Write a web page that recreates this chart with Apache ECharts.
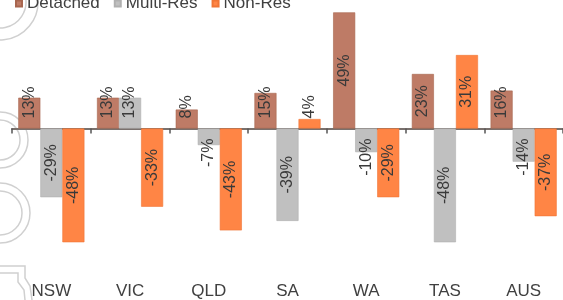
<!DOCTYPE html>
<html>
<head>
<meta charset="utf-8">
<script src="https://cdn.jsdelivr.net/npm/echarts@6/dist/echarts.min.js"></script>
<style>
html,body{margin:0;padding:0;background:#fff;}
#c{width:563px;height:300px;}
</style>
</head>
<body>
<div id="c"></div>
<script>
const categories = ['NSW', 'VIC', 'QLD', 'SA', 'WA', 'TAS', 'AUS'];
const seriesNames = ['Detached', 'Multi-Res', 'Non-Res'];
const detached = [13, 13, 8, 15, 49, 23, 16];
const multiRes = [-29, 13, -7, -39, -10, -48, -14];
const nonRes = [-48, -33, -43, 4, -29, 31, -37];
const colors = ['#BE7B66', '#C0C0C0', '#FF8545'];
const borders = ['#A8664F', '#B0B0B0', '#F07535'];

function items(arr) {
  return arr.map(function (v) {
    if (Math.abs(v) < 20) {
      return {
        value: v,
        label: v >= 0
          ? { position: 'insideBottom', distance: 10, align: 'left', verticalAlign: 'middle' }
          : { position: 'insideTop', distance: 10, align: 'right', verticalAlign: 'middle' }
      };
    }
    return v;
  });
}

const values = [detached, multiRes, nonRes];
const chart = echarts.init(document.getElementById('c'));
chart.setOption({
  animation: false,
  color: colors,
  legend: {
    top: -10, left: 10, icon: 'rect', itemWidth: 6, itemHeight: 6, itemGap: 14,
    textStyle: { fontSize: 17, color: '#404040', fontFamily: 'Liberation Sans' },
    data: seriesNames
  },
  graphic: [
    { type: 'arc', shape: { cx: 0, cy: 2, r: 26, startAngle: -0.2, endAngle: Math.PI / 2 }, style: { stroke: '#d0d0d0', lineWidth: 1.5, fill: null } },
    { type: 'arc', shape: { cx: 0, cy: 2, r: 38, startAngle: -0.1, endAngle: Math.PI / 2 }, style: { stroke: '#d0d0d0', lineWidth: 1.5, fill: null } },
    { type: 'arc', shape: { cx: 0, cy: 140, r: 28, startAngle: -Math.PI / 2, endAngle: Math.PI / 2 }, style: { stroke: '#d0d0d0', lineWidth: 1.5, fill: null } },
    { type: 'arc', shape: { cx: 0, cy: 140, r: 20, startAngle: -Math.PI / 2, endAngle: Math.PI / 2 }, style: { stroke: '#d0d0d0', lineWidth: 1.5, fill: null } },
    { type: 'arc', shape: { cx: 0, cy: 213, r: 30, startAngle: -Math.PI / 2, endAngle: Math.PI / 2 }, style: { stroke: '#d0d0d0', lineWidth: 1.5, fill: null } },
    { type: 'arc', shape: { cx: 0, cy: 213, r: 22, startAngle: -Math.PI / 2, endAngle: Math.PI / 2 }, style: { stroke: '#d0d0d0', lineWidth: 1.5, fill: null } },
    { type: 'polyline', shape: { points: [[0, 266], [25, 266], [25, 278], [30, 286], [32, 300]] }, style: { stroke: '#d0d0d0', lineWidth: 1.5, fill: null } },
    { type: 'polyline', shape: { points: [[0, 273], [18, 273], [18, 282], [24, 290], [25, 300]] }, style: { stroke: '#d0d0d0', lineWidth: 1.5, fill: null } }
  ],
  grid: { left: 12, right: 0, top: 10, bottom: 50, containLabel: false },
  xAxis: [
    {
      type: 'category', data: categories,
      axisLine: { onZero: true, lineStyle: { color: '#7a716d', width: 2 } },
      axisTick: { show: true, length: 5, lineStyle: { color: '#555', width: 1.5 } },
      axisLabel: { show: false }
    },
    {
      type: 'category', data: categories, position: 'bottom',
      axisLine: { show: false, onZero: false }, axisTick: { show: false },
      axisLabel: { show: true, fontSize: 17, color: '#404040', margin: 36, fontFamily: 'Liberation Sans' }
    }
  ],
  yAxis: { type: 'value', min: -50, max: 50, show: false, splitLine: { show: false } },
  series: values.map(function (arr, i) {
    return {
      name: seriesNames[i], type: 'bar', xAxisIndex: 0,
      barGap: '0%', barCategoryGap: '16%',
      itemStyle: { color: colors[i], borderColor: borders[i], borderWidth: 0.6 },
      label: {
        show: true, position: 'inside', rotate: 90, formatter: '{c}%',
        fontSize: 16, color: '#3a3a3a', fontFamily: 'Liberation Sans'
      },
      data: items(arr)
    };
  })
});
</script>
</body>
</html>
